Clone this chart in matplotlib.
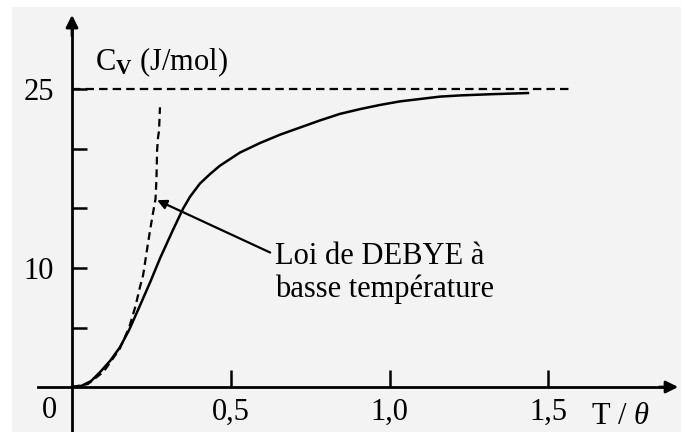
import matplotlib
matplotlib.use("Agg")
import matplotlib.pyplot as plt

plt.rcParams['font.family'] = ['Liberation Serif', 'DejaVu Serif']
plt.rcParams['mathtext.fontset'] = 'custom'
plt.rcParams['mathtext.rm'] = 'Liberation Serif'
plt.rcParams['mathtext.it'] = 'Liberation Serif:italic'
plt.rcParams['mathtext.bf'] = 'Liberation Serif:bold'

# Data
t_solid = [0, 0.03, 0.06, 0.09, 0.12, 0.15, 0.18, 0.21, 0.246, 0.277, 0.318, 0.350,
           0.372, 0.403, 0.435, 0.466, 0.529, 0.592, 0.655, 0.718, 0.781, 0.844,
           0.907, 0.970, 1.033, 1.096, 1.159, 1.222, 1.317, 1.436]
cv_solid = [0, 0.1, 0.5, 1.3, 2.2, 3.3, 4.8, 6.6, 8.8, 10.8, 13.2, 15.0,
            16.0, 17.1, 17.9, 18.6, 19.7, 20.5, 21.2, 21.8, 22.4, 22.95,
            23.35, 23.7, 24.0, 24.2, 24.4, 24.5, 24.6, 24.7]
t_debye = [0, 0.05, 0.10, 0.15, 0.18, 0.20, 0.214, 0.224, 0.236, 0.246, 0.255,
           0.263, 0.266, 0.268, 0.271, 0.274, 0.277]
cv_debye = [0, 0.25, 1.3, 3.2, 5.0, 6.8, 8.4, 9.4, 11.5, 13.2, 14.6,
            15.8, 17.5, 19.9, 21.0, 21.5, 23.5]
limit_value = 25
limit_t_end = 1.565
x_ticks = [0.5, 1.0, 1.5]
x_tick_labels = ['0,5', '1,0', '1,5']
y_ticks = [5, 10, 15, 20, 25]
y_tick_labels = ['', '10', '', '', '25']

W, H = 681, 432
fig = plt.figure(figsize=(W / 100, H / 100), dpi=100, facecolor='white')
ax = fig.add_axes([12 / W, 0, (W - 12) / W, (H - 7) / H])
bg = '#f3f3f3'
ax.set_facecolor(bg)
ax.set_xlim(-0.189, 1.918)
ax.set_ylim(-3.78, 31.93)

ink = '#000000'
# axes through origin
for s in ['top', 'right']:
    ax.spines[s].set_visible(False)
ax.spines['left'].set_position(('data', 0))
ax.spines['bottom'].set_position(('data', 0))
ax.spines['left'].set_bounds(-3.78, 30.5)
ax.spines['bottom'].set_bounds(-0.107, 1.88)
for s in ['left', 'bottom']:
    ax.spines[s].set_linewidth(2.0)
    ax.spines[s].set_color(ink)

ax.annotate('', xy=(0, 31.26), xytext=(0, 29.5),
            arrowprops=dict(arrowstyle='-|>', color=ink, lw=2.0, mutation_scale=18,
                            shrinkA=0, shrinkB=0))
ax.annotate('', xy=(1.909, 0), xytext=(1.85, 0),
            arrowprops=dict(arrowstyle='-|>', color=ink, lw=2.0, mutation_scale=18,
                            shrinkA=0, shrinkB=0))

ax.set_xticks(x_ticks)
ax.set_xticklabels(x_tick_labels)
ax.set_yticks(y_ticks)
ax.set_yticklabels(y_tick_labels)
ax.tick_params(axis='x', direction='in', length=12, width=1.8, pad=8, labelsize=22, colors=ink)
ax.tick_params(axis='y', direction='in', length=11, width=1.8, pad=13, labelsize=22, colors=ink)

# curves
ax.plot(t_solid, cv_solid, color=ink, lw=1.8, solid_joinstyle='round')
ax.plot(t_debye, cv_debye, color=ink, lw=1.6, linestyle=(0, (3.5, 2.2)))
ax.plot([0, limit_t_end], [limit_value, limit_value], color=ink, lw=1.6,
        linestyle=(0, (3.8, 2.3)))

# texts
ax.text(-0.07, -2.0, '0', fontsize=22, ha='center', va='center', color=ink)
ax.text(1.635, -1.3, r'T / $\theta$', fontsize=22, ha='left', va='top', color=ink)
ax.text(0.072, 26.6, r'C$_{\mathbf{V}}$ (J/mol)', fontsize=22, ha='left', va='baseline', color=ink)

ax.text(0.640, 7.56, 'Loi de DEBYE à\nbasse température', fontsize=22,
        ha='left', va='baseline', color=ink, linespacing=1.15)
ax.annotate('', xy=(0.268, 15.7), xytext=(0.624, 11.3),
            arrowprops=dict(arrowstyle='-|>', color=ink, lw=1.6, mutation_scale=14,
                            shrinkA=0, shrinkB=0))

fig.savefig('out.png', dpi=100, facecolor='white')
